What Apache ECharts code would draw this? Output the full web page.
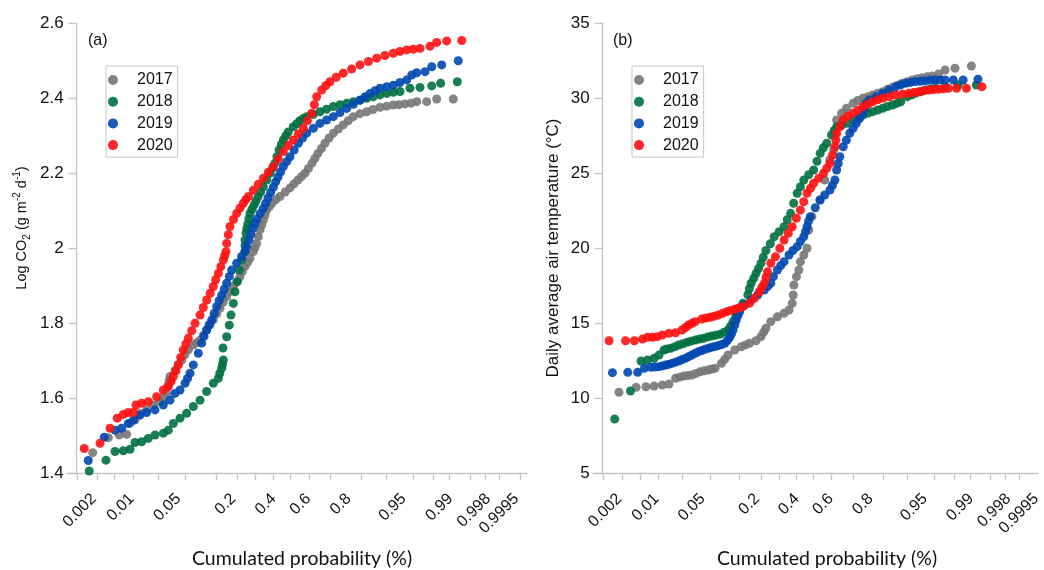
<!DOCTYPE html>
<html><head><meta charset="utf-8">
<script src="https://cdn.jsdelivr.net/npm/echarts@6/dist/echarts.min.js"></script>
<style>html,body{margin:0;padding:0;background:#fff}#c{width:1044px;height:570px}</style>
</head><body><div id="c"></div>
<script>
// ---- data ----
const years = ['2017', '2018', '2019', '2020'];
const seriesColors = ['#777777', '#007040', '#0048b0', '#ff1010'];
// labelled cumulated probabilities on the x axis
const probLabels = [0.002, 0.01, 0.05, 0.2, 0.4, 0.6, 0.8, 0.95, 0.99, 0.998, 0.9995];
// tick-mark probabilities on the x axis
const probTicks = [0.0009, 0.0023, 0.005, 0.0107, 0.026, 0.062, 0.136, 0.217, 0.303, 0.398, 0.494,
  0.604, 0.719, 0.846, 0.917, 0.963, 0.981, 0.9896, 0.9955, 0.9977, 0.9988, 0.9996];
const co2Ticks = [1.4, 1.6, 1.8, 2, 2.2, 2.4, 2.6];
const tempTicks = [5, 10, 15, 20, 25, 30, 35];

// points: [normal score of the cumulated probability, value]
const co2_2017 = [[-2.895,1.455],[-2.667,1.495],[-2.507,1.502],[-2.399,1.504],[-2.35,1.533],[-2.277,1.542],[-2.204,1.56],[-2.107,1.569],[-2.01,1.582],[-1.912,1.591],[-1.86,1.602],[-1.815,1.613],[-1.796,1.635],[-1.78,1.647],[-1.766,1.658],[-1.693,1.675],[-1.645,1.69],[-1.596,1.702],[-1.55,1.716],[-1.499,1.729],[-1.426,1.742],[-1.377,1.748],[-1.328,1.755],[-1.28,1.768],[-1.231,1.782],[-1.18,1.796],[-1.134,1.809],[-1.085,1.825],[-1.037,1.84],[-0.99,1.856],[-0.939,1.871],[-0.89,1.885],[-0.842,1.898],[-0.79,1.911],[-0.745,1.924],[-0.71,1.938],[-0.672,1.951],[-0.635,1.962],[-0.599,1.973],[-0.55,1.991],[-0.525,2.002],[-0.501,2.013],[-0.477,2.031],[-0.453,2.049],[-0.428,2.062],[-0.404,2.075],[-0.38,2.088],[-0.355,2.102],[-0.316,2.111],[-0.277,2.12],[-0.22,2.13],[-0.161,2.138],[-0.085,2.15],[-0.015,2.161],[0.045,2.172],[0.102,2.182],[0.153,2.191],[0.204,2.2],[0.255,2.213],[0.307,2.227],[0.35,2.24],[0.394,2.253],[0.445,2.266],[0.496,2.28],[0.557,2.294],[0.618,2.307],[0.69,2.318],[0.763,2.329],[0.836,2.34],[0.909,2.351],[1.007,2.359],[1.105,2.364],[1.197,2.37],[1.299,2.376],[1.397,2.379],[1.493,2.382],[1.577,2.383],[1.664,2.385],[1.752,2.387],[1.835,2.391],[1.981,2.391],[2.127,2.398],[2.369,2.398]];
const co2_2018 = [[-2.945,1.406],[-2.701,1.435],[-2.569,1.458],[-2.448,1.46],[-2.35,1.464],[-2.277,1.482],[-2.18,1.484],[-2.083,1.493],[-1.985,1.502],[-1.864,1.507],[-1.791,1.515],[-1.718,1.533],[-1.62,1.547],[-1.523,1.56],[-1.426,1.578],[-1.328,1.595],[-1.231,1.618],[-1.134,1.64],[-1.061,1.653],[-1.04,1.666],[-1.012,1.68],[-1.0,1.69],[-0.988,1.702],[-0.993,1.734],[-0.939,1.764],[-0.901,1.795],[-0.876,1.822],[-0.842,1.853],[-0.818,1.884],[-0.784,1.911],[-0.755,1.942],[-0.72,1.969],[-0.672,1.991],[-0.672,2.007],[-0.672,2.022],[-0.657,2.041],[-0.645,2.053],[-0.63,2.065],[-0.615,2.079],[-0.599,2.093],[-0.57,2.104],[-0.54,2.115],[-0.511,2.126],[-0.482,2.137],[-0.443,2.15],[-0.404,2.164],[-0.355,2.182],[-0.307,2.2],[-0.27,2.213],[-0.234,2.227],[-0.205,2.244],[-0.175,2.262],[-0.143,2.276],[-0.112,2.289],[-0.076,2.3],[-0.04,2.31],[0.034,2.324],[0.082,2.332],[0.13,2.34],[0.18,2.346],[0.229,2.351],[0.326,2.357],[0.423,2.364],[0.52,2.371],[0.618,2.378],[0.715,2.383],[0.813,2.387],[0.91,2.391],[1.007,2.395],[1.104,2.4],[1.201,2.404],[1.3,2.409],[1.397,2.413],[1.494,2.416],[1.591,2.418],[1.737,2.427],[1.883,2.429],[2.054,2.433],[2.185,2.44],[2.428,2.444]];
const co2_2019 = [[-2.959,1.434],[-2.726,1.496],[-2.569,1.515],[-2.472,1.52],[-2.375,1.533],[-2.302,1.542],[-2.204,1.555],[-2.107,1.562],[-1.985,1.569],[-1.864,1.582],[-1.766,1.595],[-1.693,1.613],[-1.62,1.622],[-1.547,1.64],[-1.51,1.653],[-1.474,1.667],[-1.426,1.689],[-1.353,1.72],[-1.304,1.747],[-1.27,1.765],[-1.231,1.782],[-1.195,1.796],[-1.158,1.809],[-1.122,1.826],[-1.085,1.844],[-1.05,1.86],[-1.012,1.875],[-0.975,1.891],[-0.939,1.907],[-0.9,1.925],[-0.866,1.942],[-0.793,1.96],[-0.72,1.978],[-0.672,1.991],[-0.647,2.004],[-0.613,2.022],[-0.585,2.038],[-0.555,2.054],[-0.525,2.066],[-0.496,2.078],[-0.45,2.093],[-0.404,2.107],[-0.37,2.12],[-0.336,2.134],[-0.297,2.149],[-0.258,2.163],[-0.224,2.177],[-0.19,2.19],[-0.151,2.204],[-0.112,2.218],[-0.063,2.231],[-0.015,2.244],[0.046,2.262],[0.107,2.28],[0.168,2.294],[0.229,2.307],[0.326,2.32],[0.423,2.333],[0.52,2.342],[0.618,2.351],[0.715,2.362],[0.813,2.373],[0.91,2.384],[1.007,2.395],[1.08,2.404],[1.153,2.413],[1.226,2.42],[1.299,2.427],[1.396,2.431],[1.493,2.435],[1.59,2.442],[1.689,2.449],[1.762,2.462],[1.835,2.468],[1.956,2.471],[2.054,2.484],[2.2,2.489],[2.442,2.5]];
const co2_2020 = [[-3.018,1.466],[-2.788,1.48],[-2.642,1.52],[-2.536,1.547],[-2.448,1.557],[-2.375,1.562],[-2.302,1.562],[-2.263,1.582],[-2.18,1.587],[-2.083,1.591],[-1.961,1.604],[-1.864,1.622],[-1.791,1.631],[-1.75,1.645],[-1.718,1.658],[-1.68,1.673],[-1.645,1.689],[-1.61,1.709],[-1.572,1.729],[-1.535,1.745],[-1.499,1.76],[-1.45,1.78],[-1.401,1.8],[-1.328,1.822],[-1.28,1.842],[-1.231,1.862],[-1.18,1.88],[-1.134,1.898],[-1.1,1.916],[-1.061,1.933],[-1.025,1.951],[-0.988,1.969],[-0.968,1.98],[-0.949,1.991],[-0.939,2.013],[-0.915,2.036],[-0.891,2.058],[-0.84,2.077],[-0.793,2.093],[-0.745,2.107],[-0.696,2.12],[-0.658,2.13],[-0.62,2.138],[-0.55,2.155],[-0.477,2.171],[-0.404,2.187],[-0.331,2.203],[-0.258,2.218],[-0.185,2.238],[-0.112,2.258],[-0.04,2.274],[0.034,2.289],[0.107,2.305],[0.18,2.32],[0.24,2.34],[0.302,2.36],[0.34,2.383],[0.375,2.404],[0.448,2.422],[0.509,2.434],[0.569,2.444],[0.66,2.456],[0.763,2.467],[0.885,2.478],[1.007,2.489],[1.13,2.498],[1.251,2.507],[1.372,2.514],[1.493,2.52],[1.59,2.525],[1.689,2.529],[1.786,2.531],[1.883,2.533],[2.029,2.539],[2.127,2.549],[2.273,2.553],[2.492,2.554]];

const temp_2017 = [[-2.886,10.4],[-2.632,10.73],[-2.486,10.77],[-2.365,10.82],[-2.244,10.89],[-2.146,10.95],[-2.048,11.33],[-1.987,11.41],[-1.927,11.49],[-1.866,11.52],[-1.806,11.55],[-1.745,11.66],[-1.683,11.77],[-1.623,11.83],[-1.562,11.89],[-1.513,11.95],[-1.464,12.0],[-1.368,12.33],[-1.32,12.6],[-1.27,12.89],[-1.172,13.22],[-1.076,13.44],[-1.015,13.56],[-0.953,13.67],[-0.857,13.84],[-0.784,14.11],[-0.745,14.4],[-0.711,14.67],[-0.638,15.11],[-0.54,15.44],[-0.442,15.67],[-0.369,15.89],[-0.321,16.33],[-0.307,16.89],[-0.296,17.55],[-0.258,18.11],[-0.223,18.55],[-0.2,19.11],[-0.15,19.55],[-0.102,20.0],[-0.077,21.22],[-0.029,22.11],[0.088,23.22],[0.161,24.55],[0.234,25.89],[0.292,26.55],[0.31,27.5],[0.336,28.55],[0.409,29.0],[0.482,29.33],[0.58,29.67],[0.65,29.85],[0.726,30.0],[0.8,30.1],[0.872,30.22],[0.945,30.33],[1.018,30.44],[1.09,30.6],[1.163,30.73],[1.236,30.87],[1.309,31.0],[1.382,31.1],[1.455,31.22],[1.528,31.3],[1.601,31.37],[1.674,31.43],[1.747,31.49],[1.844,31.62],[1.942,31.89],[2.088,32.0],[2.331,32.15]];
const temp_2018 = [[-2.949,8.62],[-2.715,10.49],[-2.559,12.49],[-2.463,12.55],[-2.365,12.67],[-2.292,12.89],[-2.219,13.22],[-2.18,13.28],[-2.121,13.33],[-2.06,13.44],[-2.0,13.55],[-1.94,13.64],[-1.879,13.73],[-1.818,13.81],[-1.756,13.89],[-1.695,13.95],[-1.635,14.0],[-1.575,14.08],[-1.514,14.15],[-1.453,14.21],[-1.391,14.27],[-1.33,14.4],[-1.27,14.55],[-1.235,14.8],[-1.197,15.11],[-1.16,15.4],[-1.124,15.67],[-1.088,16.0],[-1.051,16.33],[-0.978,16.9],[-0.955,17.3],[-0.93,17.67],[-0.89,18.0],[-0.856,18.33],[-0.82,18.65],[-0.783,19.0],[-0.75,19.4],[-0.711,19.85],[-0.645,20.3],[-0.588,20.77],[-0.515,21.1],[-0.442,21.44],[-0.395,21.9],[-0.345,22.33],[-0.3,23.0],[-0.248,23.67],[-0.2,24.1],[-0.15,24.55],[-0.077,24.9],[-0.004,25.22],[0.045,25.8],[0.093,26.33],[0.14,26.7],[0.19,27.0],[0.26,27.55],[0.3,27.85],[0.336,28.11],[0.41,28.22],[0.482,28.33],[0.58,28.55],[0.65,28.7],[0.726,28.89],[0.8,29.0],[0.872,29.11],[0.945,29.22],[1.018,29.33],[1.09,29.45],[1.164,29.55],[1.225,29.66],[1.285,29.77],[1.382,30.11],[1.443,30.22],[1.504,30.33],[1.577,30.44],[1.65,30.55],[1.723,30.61],[1.796,30.67],[1.942,30.77],[2.136,30.89],[2.404,30.89]];
const temp_2019 = [[-2.982,11.71],[-2.755,11.73],[-2.609,11.73],[-2.511,12.0],[-2.413,12.07],[-2.352,12.09],[-2.292,12.11],[-2.243,12.16],[-2.194,12.22],[-2.146,12.27],[-2.098,12.33],[-2.049,12.41],[-2.0,12.49],[-1.951,12.58],[-1.902,12.67],[-1.854,12.78],[-1.806,12.89],[-1.757,13.0],[-1.708,13.11],[-1.659,13.19],[-1.61,13.27],[-1.562,13.33],[-1.514,13.4],[-1.465,13.45],[-1.416,13.51],[-1.367,13.59],[-1.318,13.67],[-1.28,13.85],[-1.245,14.07],[-1.22,14.3],[-1.197,14.55],[-1.17,14.9],[-1.149,15.22],[-1.125,15.5],[-1.099,15.77],[-1.026,16.22],[-0.93,16.55],[-0.832,16.89],[-0.734,17.22],[-0.686,17.45],[-0.638,17.67],[-0.599,18.11],[-0.54,18.55],[-0.49,18.85],[-0.442,19.11],[-0.369,19.55],[-0.31,19.85],[-0.248,20.11],[-0.2,20.45],[-0.15,20.77],[-0.125,21.1],[-0.102,21.44],[-0.08,21.8],[-0.054,22.11],[0.02,22.7],[0.092,23.22],[0.16,23.55],[0.238,23.89],[0.275,24.2],[0.311,24.55],[0.336,25.22],[0.36,25.65],[0.384,26.11],[0.434,26.77],[0.48,27.2],[0.53,27.67],[0.58,28.0],[0.628,28.33],[0.675,28.65],[0.726,29.0],[0.75,29.35],[0.774,29.67],[0.822,29.89],[0.92,30.1],[1.018,30.33],[1.114,30.55],[1.212,30.77],[1.285,30.9],[1.358,31.0],[1.43,31.06],[1.504,31.11],[1.577,31.14],[1.65,31.17],[1.723,31.2],[1.796,31.22],[1.869,31.22],[1.942,31.22],[2.063,31.22],[2.209,31.22],[2.428,31.27]];
const temp_2020 = [[-3.032,13.84],[-2.788,13.84],[-2.657,13.84],[-2.536,13.95],[-2.463,14.07],[-2.39,14.07],[-2.317,14.11],[-2.244,14.22],[-2.146,14.33],[-2.048,14.37],[-1.952,14.55],[-1.9,14.72],[-1.854,14.89],[-1.805,15.0],[-1.756,15.11],[-1.66,15.29],[-1.6,15.35],[-1.537,15.4],[-1.477,15.47],[-1.416,15.55],[-1.355,15.66],[-1.295,15.77],[-1.233,15.85],[-1.172,15.93],[-1.11,16.02],[-1.051,16.11],[-0.953,16.33],[-0.88,16.67],[-0.807,17.11],[-0.77,17.4],[-0.734,17.67],[-0.71,18.05],[-0.686,18.44],[-0.638,19.0],[-0.569,19.44],[-0.505,20.0],[-0.442,20.55],[-0.38,21.0],[-0.321,21.44],[-0.26,22.0],[-0.2,22.55],[-0.15,23.1],[-0.102,23.67],[-0.05,24.0],[-0.004,24.33],[0.07,24.67],[0.142,25.0],[0.19,25.33],[0.238,25.67],[0.275,26.2],[0.311,26.77],[0.325,27.2],[0.336,27.67],[0.385,28.1],[0.434,28.55],[0.5,28.8],[0.58,29.0],[0.65,29.2],[0.726,29.44],[0.8,29.6],[0.872,29.77],[0.945,29.9],[1.018,30.0],[1.115,30.1],[1.212,30.22],[1.31,30.28],[1.406,30.33],[1.48,30.39],[1.552,30.44],[1.625,30.5],[1.698,30.55],[1.77,30.58],[1.844,30.6],[1.917,30.63],[1.99,30.67],[2.112,30.67],[2.258,30.67],[2.486,30.77]];

const co2Series = [co2_2017, co2_2018, co2_2019, co2_2020];
const tempSeries = [temp_2017, temp_2018, temp_2019, temp_2020];

// ---- probability (normal quantile) scale ----
function probit(p) {
  const a = [-3.969683028665376e+01, 2.209460984245205e+02, -2.759285104469687e+02, 1.383577518672690e+02, -3.066479806614716e+01, 2.506628277459239e+00];
  const b = [-5.447609879822406e+01, 1.615858368580409e+02, -1.556989798598866e+02, 6.680131188771972e+01, -1.328068155288572e+01];
  const c = [-7.784894002430293e-03, -3.223964580411365e-01, -2.400758277161838e+00, -2.549732539343734e+00, 4.374664141464968e+00, 2.938163982698783e+00];
  const d = [7.784695709041462e-03, 3.224671290700398e-01, 2.445134137142996e+00, 3.754408661907416e+00];
  const pl = 0.02425, ph = 1 - pl;
  let q, r;
  if (p < pl) {
    q = Math.sqrt(-2 * Math.log(p));
    return (((((c[0]*q+c[1])*q+c[2])*q+c[3])*q+c[4])*q+c[5]) / ((((d[0]*q+d[1])*q+d[2])*q+d[3])*q+1);
  }
  if (p <= ph) {
    q = p - 0.5; r = q * q;
    return (((((a[0]*r+a[1])*r+a[2])*r+a[3])*r+a[4])*r+a[5])*q / (((((b[0]*r+b[1])*r+b[2])*r+b[3])*r+b[4])*r+1);
  }
  q = Math.sqrt(-2 * Math.log(1 - p));
  return -(((((c[0]*q+c[1])*q+c[2])*q+c[3])*q+c[4])*q+c[5]) / ((((d[0]*q+d[1])*q+d[2])*q+d[3])*q+1);
}
const labelZ = probLabels.map(probit);
const tickZ = probTicks.map(probit);
function probLabel(v) {
  let best = 0, bd = Infinity;
  labelZ.forEach((z, i) => { const dd = Math.abs(z - v); if (dd < bd) { bd = dd; best = i; } });
  return String(probLabels[best]);
}

const AX = '#c4c4c4';
const TXT = '#111';
const FONT = 'Arial, "Liberation Sans", sans-serif';
const TITLE_FONT = 'Lato, "Open Sans", sans-serif';

function xAxisDef(gi, min, max) {
  return {
    type: 'value', gridIndex: gi, min: min, max: max,
    splitLine: { show: false },
    axisLine: { show: true, onZero: false, lineStyle: { color: AX, width: 1.3 } },
    axisTick: { show: true, customValues: tickZ, length: 7, lineStyle: { color: AX, width: 1.3 } },
    axisLabel: { show: true, customValues: labelZ, rotate: 45, margin: 23, formatter: probLabel,
      color: TXT, fontSize: 16, fontFamily: FONT }
  };
}
function yAxisDef(gi, min, max, interval, ticks) {
  return {
    type: 'value', gridIndex: gi, min: min, max: max, interval: interval, offset: -9.7,
    splitLine: { show: false },
    axisLine: { show: true, onZero: false, lineStyle: { color: AX, width: 1.3 } },
    axisTick: { show: true, length: 8, lineStyle: { color: AX, width: 1.3 } },
    axisLabel: { color: TXT, fontSize: 17, fontFamily: FONT, margin: 13,
      formatter: v => { const t = ticks.find(k => Math.abs(k - v) < 1e-9); return t === undefined ? '' : String(t); } }
  };
}
function legendDef(left) {
  return {
    data: years, orient: 'vertical', left: left, top: 66,
    padding: [6, 5, 4, 2], itemGap: 5.7, itemWidth: 38, itemHeight: 10, icon: 'circle',
    borderColor: '#c8c8c8', borderWidth: 1, backgroundColor: '#fff',
    textStyle: { fontSize: 16, fontFamily: FONT, color: TXT, lineHeight: 16 }
  };
}
const series = [];
years.forEach((y, i) => {
  series.push({ type: 'scatter', name: y, xAxisIndex: 0, yAxisIndex: 0, data: co2Series[i],
    symbol: 'circle', symbolSize: 9, itemStyle: { color: seriesColors[i], opacity: 0.9 }, z: 2 + i });
});
years.forEach((y, i) => {
  series.push({ type: 'scatter', name: y, xAxisIndex: 1, yAxisIndex: 1, data: tempSeries[i],
    symbol: 'circle', symbolSize: 9, itemStyle: { color: seriesColors[i], opacity: 0.9 }, z: 2 + i });
});

const chart = echarts.init(document.getElementById('c'), null, { renderer: 'canvas' });
chart.setOption({
  animation: false,
  backgroundColor: '#fff',
  grid: [
    { left: 67, top: 23.3, width: 460, height: 450 },
    { left: 593, top: 23.3, width: 451, height: 450 }
  ],
  xAxis: [xAxisDef(0, -3.27, 3.445), xAxisDef(1, -3.27, 3.314)],
  yAxis: [yAxisDef(0, 1.4, 2.6, 0.2, co2Ticks), yAxisDef(1, 5, 35, 5, tempTicks)],
  legend: [legendDef(106), legendDef(632)],
  series: series,
  graphic: [
    { type: 'text', x: 88, y: 41, style: { text: '(a)', fontSize: 16, fontFamily: FONT, fill: TXT, textVerticalAlign: 'middle' } },
    { type: 'text', x: 613, y: 41, style: { text: '(b)', fontSize: 16, fontFamily: FONT, fill: TXT, textVerticalAlign: 'middle' } },
    { type: 'text', x: 302, y: 559, style: { text: 'Cumulated probability (%)', fontSize: 19.5, fontFamily: TITLE_FONT, fill: TXT, textAlign: 'center', textVerticalAlign: 'middle' } },
    { type: 'text', x: 827, y: 559, style: { text: 'Cumulated probability (%)', fontSize: 19.5, fontFamily: TITLE_FONT, fill: TXT, textAlign: 'center', textVerticalAlign: 'middle' } },
    { type: 'text', x: 22, y: 228, rotation: Math.PI / 2,
      style: { text: '{a|Log CO}{s|2}{a| (g m}{u|-2}{a| d}{u|-1}{a|)}', textAlign: 'center', textVerticalAlign: 'middle', fill: TXT,
        rich: {
          a: { fontSize: 14.5, fontFamily: FONT, fill: TXT, color: TXT, lineHeight: 20 },
          s: { fontSize: 10, fontFamily: FONT, fill: TXT, color: TXT, lineHeight: 10, verticalAlign: 'bottom' },
          u: { fontSize: 10, fontFamily: FONT, fill: TXT, color: TXT, lineHeight: 10, verticalAlign: 'top' }
        } } },
    { type: 'text', x: 553, y: 248, rotation: Math.PI / 2,
      style: { text: 'Daily average air temperature (°C)', fontSize: 17, fontFamily: FONT, fill: TXT, textAlign: 'center', textVerticalAlign: 'middle' } }
  ]
});
</script>
</body></html>
